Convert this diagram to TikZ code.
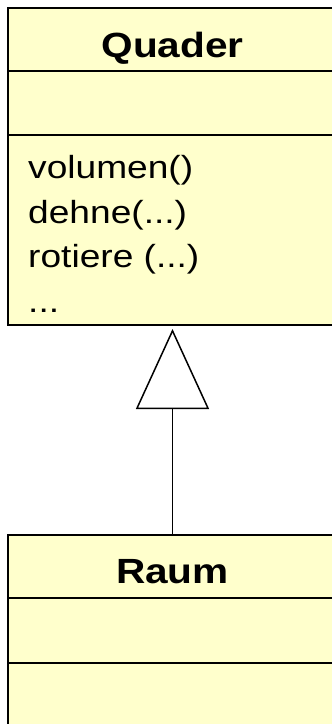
\documentclass[tikz,border=0pt]{standalone}
\usepackage{fontspec}
\setmainfont{Liberation Sans}[FakeStretch=1.16]
\usetikzlibrary{positioning,arrows.meta}
\definecolor{classfill}{HTML}{FFFFCC}
\tikzset{
    compartment/.style={draw,fill=classfill,line width=2pt,minimum width=329pt,inner sep=0pt,outer sep=0pt},
    classname/.style={font=\fontsize{35}{35}\selectfont\bfseries,inner sep=0pt},
    operations/.style={font=\fontsize{32}{44.7}\selectfont,align=left,inner sep=0pt,anchor=north west},
    inherits/.style={line width=1pt,-{Triangle[open,width=73pt,length=80pt,line width=1.5pt]},shorten >=4pt}
}
\begin{document}
\begin{tikzpicture}[x=1pt,y=-1pt]
    \useasboundingbox (0,0) rectangle (332,724);
    \node[compartment,minimum height=63pt,anchor=north west] (quader) at (8,8) {};
    \node[compartment,minimum height=64pt,below=0pt of quader] (quaderAttr) {};
    \node[compartment,minimum height=190pt,below=0pt of quaderAttr] (quaderOps) {};
    \node[classname,anchor=base] (quaderName) at ([yshift=-17.5pt]quader.center) {Quader};
    \node[operations] (quaderOpsText) at (28,155) {volumen()\\dehne(...)\\rotiere (...)\\...};

    \node[compartment,minimum height=63pt,anchor=north west] (raum) at (8,535) {};
    \node[compartment,minimum height=65pt,below=0pt of raum] (raumAttr) {};
    \node[compartment,minimum height=100pt,below=0pt of raumAttr] (raumOps) {};
    \node[classname,anchor=base] (raumName) at ([yshift=-16.5pt]raum.center) {Raum};

    \draw[inherits] (raum) -- (quaderOps);
\end{tikzpicture}
\end{document}
